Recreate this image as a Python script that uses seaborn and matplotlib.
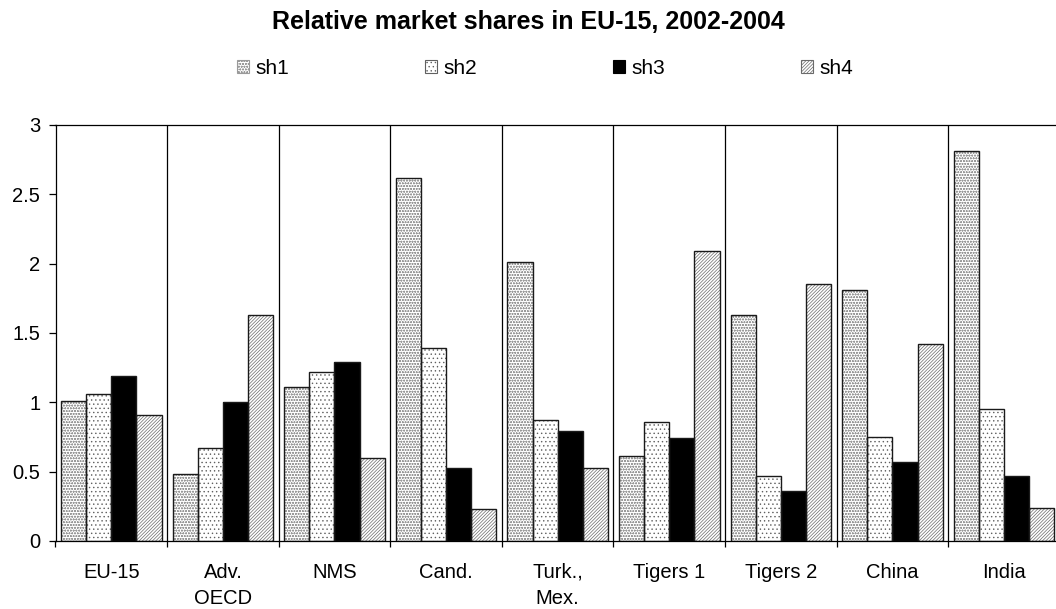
import numpy as np
import pandas as pd
import matplotlib
matplotlib.use("Agg")
import matplotlib.pyplot as plt
import seaborn as sns
from matplotlib.patches import Patch

categories = ["EU-15", "Adv.\nOECD", "NMS", "Cand.", "Turk.,\nMex.", "Tigers 1", "Tigers 2", "China", "India"]
sh1 = [1.01, 0.48, 1.11, 2.62, 2.01, 0.61, 1.63, 1.81, 2.81]
sh2 = [1.06, 0.67, 1.22, 1.39, 0.87, 0.86, 0.47, 0.75, 0.95]
sh3 = [1.19, 1.00, 1.29, 0.53, 0.79, 0.74, 0.36, 0.57, 0.47]
sh4 = [0.91, 1.63, 0.60, 0.23, 0.53, 2.09, 1.85, 1.42, 0.24]
series = ["sh1", "sh2", "sh3", "sh4"]
yticks = [0, 0.5, 1, 1.5, 2, 2.5, 3]
yticklabels = ["0", "0.5", "1", "1.5", "2", "2.5", "3"]

sns.set_theme(style="white")
plt.rcParams["font.family"] = ["Liberation Sans", "DejaVu Sans"]
for k in ["text.color", "axes.labelcolor", "xtick.color", "ytick.color"]:
    plt.rcParams[k] = "black"
plt.rcParams["hatch.linewidth"] = 0.5

df = pd.DataFrame({
    "cat": categories * 4,
    "series": sum([[s] * len(categories) for s in series], []),
    "value": sh1 + sh2 + sh3 + sh4,
})

W, H = 1056, 609
fig = plt.figure(figsize=(W / 100, H / 100), dpi=100)
ax = fig.add_axes([55.5 / W, 1 - 541 / H, 1004.4 / W, 416 / H])

styles = {
    "sh1": dict(face="white", hatch="oooooo", edge="#9a9a9a"),
    "sh2": dict(face="white", hatch="....", edge="#606060"),
    "sh3": dict(face="black", hatch="", edge="black"),
    "sh4": dict(face="white", hatch="//////////", edge="#6a6a6a"),
}

sns.barplot(data=df, x="cat", y="value", hue="series", hue_order=series,
            order=categories, width=0.9, ax=ax, legend=False, gap=0)

for s, cont in zip(series, ax.containers):
    st = styles[s]
    for p in cont.patches:
        p.set_facecolor(st["face"])
        p.set_hatch(st["hatch"])
        p.set_edgecolor(st["edge"])
        p.set_linewidth(0)
        ax.add_patch(plt.Rectangle(p.get_xy(), p.get_width(), p.get_height(),
                                   fill=False, edgecolor="#1a1a1a", linewidth=1.0, zorder=3))

n = len(categories)
ax.set_xlim(-0.5, n - 0.5)
ax.set_ylim(0, 3)
ax.set_yticks(yticks)
ax.set_yticklabels(yticklabels, fontsize=14.5)
ax.set_xticks(range(n))
ax.set_xticklabels(categories, fontsize=14.5, va="top", linespacing=1.5)
ax.set_xticks(np.arange(-0.5, n, 1), minor=True)
ax.tick_params(axis="x", which="major", length=0, pad=15.5)
ax.tick_params(axis="x", which="minor", length=4, width=0.9, color="black", direction="out", bottom=True)
ax.tick_params(axis="y", length=5, width=0.9, color="black", direction="out", left=True, pad=6)
for xb in np.arange(0.5, n - 0.5, 1):
    ax.axvline(xb, color="black", linewidth=0.9, zorder=0)
ax.set_xlabel("")
ax.set_ylabel("")
ax.spines["right"].set_visible(False)
for side in ["left", "bottom", "top"]:
    ax.spines[side].set_color("black")
    ax.spines[side].set_linewidth(0.9)

fig.text(0.5, 1 - 22 / H, "Relative market shares in EU-15, 2002-2004",
         ha="center", va="center", fontsize=18, fontweight="bold")

handles = [Patch(facecolor=styles[s]["face"], hatch=styles[s]["hatch"],
                 edgecolor=styles[s]["edge"] if s != "sh3" else "black", linewidth=0.8) for s in series]
fig.legend(handles, series, loc="center", bbox_to_anchor=(545 / W, 1 - 68 / H),
           ncol=4, frameon=False, fontsize=15, handlelength=0.6, handleheight=0.6,
           handletextpad=0.3, columnspacing=6.5, borderpad=0)

fig.savefig("out.png", dpi=100)
